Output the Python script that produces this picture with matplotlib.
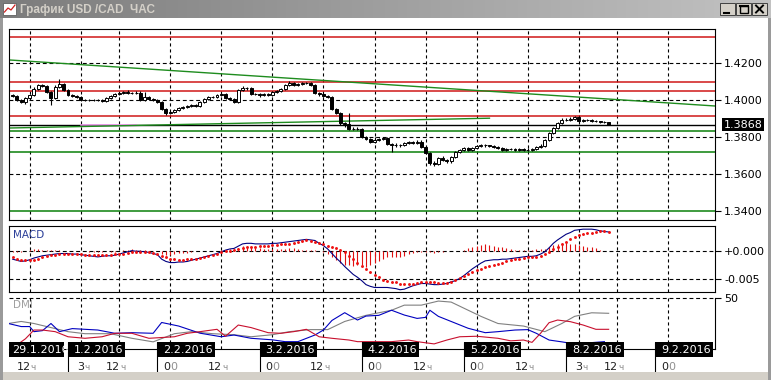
import numpy as np
import matplotlib.pyplot as plt
from matplotlib.patches import Rectangle
from matplotlib.colors import LinearSegmentedColormap

plt.rcParams['font.family'] = ['DejaVu Sans']

# hourly USD/CAD bars, bar 0 = 29.1.2016 12:00 (weekend gaps removed)
first_bar = -4
opens = [1.4030, 1.4023, 1.4002, 1.3991, 1.4012, 1.4029, 1.4061, 1.4083, 1.4077, 1.4045,
         1.4012, 1.4072, 1.4088, 1.4056, 1.4029, 1.4023, 1.4018, 1.4002, 1.4000, 1.4003,
         1.4001, 1.4004, 1.3996, 1.4012, 1.4023, 1.4034, 1.4039, 1.4045, 1.4040, 1.4038,
         1.4041, 1.4002, 1.4018, 1.4007, 1.4002, 1.3991, 1.3953, 1.3931, 1.3937, 1.3948,
         1.3958, 1.3964, 1.3969, 1.3975, 1.3970, 1.3991, 1.4007, 1.4018, 1.4016, 1.4029,
         1.4034, 1.4012, 1.4007, 1.3991, 1.4056, 1.4066, 1.4064, 1.4034, 1.4032, 1.4029,
         1.4034, 1.4029, 1.4045, 1.4050, 1.4061, 1.4083, 1.4094, 1.4083, 1.4088, 1.4094,
         1.4092, 1.4083, 1.4039, 1.4034, 1.4023, 1.4018, 1.3953, 1.3931, 1.3877, 1.3872,
         1.3845, 1.3847, 1.3843, 1.3802, 1.3791, 1.3775, 1.3785, 1.3791, 1.3796, 1.3764,
         1.3758, 1.3760, 1.3757, 1.3769, 1.3775, 1.3769, 1.3775, 1.3748, 1.3715, 1.3661,
         1.3656, 1.3688, 1.3677, 1.3672, 1.3694, 1.3721, 1.3731, 1.3742, 1.3731, 1.3742,
         1.3753, 1.3758, 1.3756, 1.3753, 1.3748, 1.3742, 1.3731, 1.3737, 1.3735, 1.3731,
         1.3737, 1.3731, 1.3733, 1.3737, 1.3748, 1.3753, 1.3785, 1.3823, 1.3850, 1.3877,
         1.3894, 1.3896, 1.3899, 1.3910, 1.3888, 1.3894, 1.3892, 1.3888, 1.3886, 1.3883,
         1.3880]
highs = [1.4036, 1.4027, 1.4006, 1.4018, 1.4036, 1.4070, 1.4090, 1.4090, 1.4082, 1.4050,
         1.4083, 1.4114, 1.4094, 1.4061, 1.4035, 1.4029, 1.4022, 1.4007, 1.4008, 1.4007,
         1.4009, 1.4008, 1.4017, 1.4029, 1.4040, 1.4045, 1.4050, 1.4056, 1.4045, 1.4050,
         1.4048, 1.4045, 1.4023, 1.4012, 1.4007, 1.3996, 1.3958, 1.3942, 1.3953, 1.3964,
         1.3969, 1.3975, 1.3980, 1.3980, 1.3996, 1.4012, 1.4023, 1.4023, 1.4034, 1.4040,
         1.4040, 1.4018, 1.4012, 1.4061, 1.4077, 1.4072, 1.4070, 1.4040, 1.4038, 1.4040,
         1.4040, 1.4050, 1.4056, 1.4066, 1.4088, 1.4104, 1.4099, 1.4094, 1.4099, 1.4099,
         1.4097, 1.4088, 1.4045, 1.4040, 1.4029, 1.4023, 1.3958, 1.3937, 1.3883, 1.3933,
         1.3856, 1.3856, 1.3848, 1.3807, 1.3796, 1.3802, 1.3796, 1.3802, 1.3802, 1.3769,
         1.3769, 1.3764, 1.3775, 1.3780, 1.3780, 1.3785, 1.3785, 1.3753, 1.3720, 1.3672,
         1.3694, 1.3699, 1.3683, 1.3699, 1.3726, 1.3737, 1.3748, 1.3748, 1.3748, 1.3758,
         1.3764, 1.3764, 1.3760, 1.3758, 1.3753, 1.3748, 1.3742, 1.3742, 1.3740, 1.3742,
         1.3742, 1.3740, 1.3742, 1.3753, 1.3764, 1.3791, 1.3829, 1.3856, 1.3883, 1.3904,
         1.3904, 1.3910, 1.3915, 1.3915, 1.3899, 1.3899, 1.3899, 1.3892, 1.3888, 1.3886,
         1.3883]
lows = [1.4015, 1.3996, 1.3985, 1.3982, 1.4008, 1.4024, 1.4056, 1.4072, 1.4040, 1.3975,
        1.4007, 1.4066, 1.4050, 1.4023, 1.4018, 1.4012, 1.3997, 1.3995, 1.3996, 1.3996,
        1.3997, 1.3991, 1.3992, 1.4007, 1.4018, 1.4029, 1.4034, 1.4034, 1.4032, 1.4032,
        1.3996, 1.3996, 1.4002, 1.3996, 1.3985, 1.3948, 1.3920, 1.3926, 1.3932, 1.3942,
        1.3953, 1.3958, 1.3964, 1.3964, 1.3964, 1.3985, 1.4002, 1.4010, 1.4010, 1.4023,
        1.4007, 1.4002, 1.3985, 1.3985, 1.4050, 1.4058, 1.4029, 1.4026, 1.4018, 1.4023,
        1.4023, 1.4023, 1.4040, 1.4045, 1.4056, 1.4077, 1.4077, 1.4077, 1.4083, 1.4086,
        1.4077, 1.4034, 1.4023, 1.4018, 1.4012, 1.3948, 1.3926, 1.3866, 1.3856, 1.3840,
        1.3840, 1.3837, 1.3796, 1.3785, 1.3769, 1.3769, 1.3780, 1.3785, 1.3758, 1.3722,
        1.3748, 1.3748, 1.3753, 1.3764, 1.3764, 1.3764, 1.3742, 1.3710, 1.3650, 1.3645,
        1.3650, 1.3672, 1.3661, 1.3661, 1.3688, 1.3715, 1.3726, 1.3726, 1.3726, 1.3737,
        1.3748, 1.3750, 1.3748, 1.3742, 1.3737, 1.3726, 1.3726, 1.3729, 1.3726, 1.3726,
        1.3726, 1.3726, 1.3728, 1.3731, 1.3742, 1.3748, 1.3780, 1.3818, 1.3845, 1.3872,
        1.3888, 1.3890, 1.3894, 1.3883, 1.3883, 1.3886, 1.3883, 1.3880, 1.3877, 1.3875,
        1.3864]
closes = [1.4023, 1.4002, 1.3991, 1.4012, 1.4029, 1.4061, 1.4083, 1.4077, 1.4045, 1.4012,
          1.4072, 1.4088, 1.4056, 1.4029, 1.4023, 1.4018, 1.4002, 1.4000, 1.4003, 1.4001,
          1.4004, 1.3996, 1.4012, 1.4023, 1.4034, 1.4039, 1.4045, 1.4040, 1.4038, 1.4041,
          1.4002, 1.4018, 1.4007, 1.4002, 1.3991, 1.3953, 1.3931, 1.3937, 1.3948, 1.3958,
          1.3964, 1.3969, 1.3975, 1.3970, 1.3991, 1.4007, 1.4018, 1.4016, 1.4029, 1.4034,
          1.4012, 1.4007, 1.3991, 1.4056, 1.4066, 1.4064, 1.4034, 1.4032, 1.4029, 1.4034,
          1.4029, 1.4045, 1.4050, 1.4061, 1.4083, 1.4094, 1.4083, 1.4088, 1.4094, 1.4092,
          1.4083, 1.4039, 1.4034, 1.4023, 1.4018, 1.3953, 1.3931, 1.3877, 1.3872, 1.3845,
          1.3847, 1.3843, 1.3802, 1.3791, 1.3775, 1.3785, 1.3791, 1.3796, 1.3764, 1.3758,
          1.3760, 1.3757, 1.3769, 1.3775, 1.3769, 1.3775, 1.3748, 1.3715, 1.3661, 1.3656,
          1.3688, 1.3677, 1.3672, 1.3694, 1.3721, 1.3731, 1.3742, 1.3731, 1.3742, 1.3753,
          1.3758, 1.3756, 1.3753, 1.3748, 1.3742, 1.3731, 1.3737, 1.3735, 1.3731, 1.3737,
          1.3731, 1.3733, 1.3737, 1.3748, 1.3753, 1.3785, 1.3823, 1.3850, 1.3877, 1.3894,
          1.3896, 1.3899, 1.3910, 1.3888, 1.3894, 1.3892, 1.3888, 1.3886, 1.3883, 1.3880,
          1.3868]

# MACD main line and signal, in units of 0.0001
macd_main = [-15, -17, -19, -18, -16, -13, -11, -9, -8, -7,
             -6, -5, -5, -5, -6, -6, -7, -8, -9, -10,
             -11, -10, -9, -9, -8, -6, -4, -2, 0, -1,
             -1, -2, -3, -5, -7, -15, -19, -21, -21, -20,
             -20, -19, -17, -15, -13, -11, -9, -7, -5, -2,
             1, 3, 4, 8, 12, 13, 13, 12, 12, 12,
             12, 13, 13, 14, 15, 16, 17, 18, 19, 20,
             19, 18, 13, 9, 3, -5, -13, -20, -28, -35,
             -42, -47, -53, -60, -63, -65, -65, -65, -65, -66,
             -67, -69, -68, -65, -62, -60, -58, -58, -59, -60,
             -60, -59, -58, -55, -53, -49, -44, -38, -32, -27,
             -22, -18, -17, -16, -16, -15, -15, -14, -13, -12,
             -11, -10, -10, -9, -6, -2, 5, 13, 19, 24,
             29, 32, 36, 37, 38, 38, 38, 37, 35, 34,
             33]
macd_signal = [-12, -14, -16, -17, -17, -16, -14, -11, -9, -8,
               -7, -6, -5, -5, -5, -6, -6, -7, -7, -8,
               -8, -8, -8, -7, -6, -6, -5, -4, -3, -3,
               -3, -3, -3, -4, -6, -9, -12, -14, -15, -16,
               -16, -15, -15, -14, -13, -11, -9, -7, -5, -3,
               -1, 0, 1, 3, 4, 6, 7, 7, 8, 9,
               9, 10, 10, 11, 12, 12, 13, 15, 17, 18,
               17, 16, 14, 12, 9, 7, 4, 1, -3, -9,
               -15, -21, -27, -32, -38, -43, -47, -51, -53, -55,
               -56, -58, -59, -59, -58, -57, -56, -55, -56, -56,
               -57, -57, -57, -55, -52, -49, -45, -42, -38, -35,
               -32, -29, -27, -25, -23, -21, -19, -17, -15, -14,
               -13, -12, -12, -12, -9, -5, -2, 3, 7, 12,
               16, 20, 24, 27, 29, 31, 32, 33, 34, 34,
               33]

# DMI lines read at selected bars
adx_bars = [-5, -2, 1, 4, 9, 13, 19, 24, 29, 34, 38, 43, 48, 52, 57, 61, 66, 70,
            74, 79, 85, 88, 92, 96, 99, 102, 106, 110, 116, 121, 125, 128, 132, 136]
adx_vals = [25, 27, 25, 22, 17, 15, 15, 10.5, 7, 15, 17, 15, 14, 12, 14, 17, 19, 19,
            27, 33, 38, 43, 43, 47, 46, 40, 32, 25, 22.5, 17, 25, 32, 35.5, 35]
plus_bars = [-5, -2, 0, 1, 3, 5, 7, 10, 16, 20, 24, 29, 31, 35, 40, 45, 48, 52, 57, 60,
             63, 67, 69, 71, 74, 77, 79, 82, 85, 88, 91, 93, 94, 96, 99, 103, 107, 110,
             114, 117, 119, 122, 125, 128, 135]
plus_vals = [25, 22, 22, 17, 18, 25, 17, 20, 18.6, 15.4, 16, 15.4, 26, 22.5, 15.5, 12,
             13.7, 10.5, 9, 7.2, 7.2, 13.7, 18.6, 28, 35.6, 28.4, 32.3, 33, 38, 33.3, 30,
             31, 38, 32, 27, 20.3, 16, 17, 18.6, 19, 15.4, 8.8, 7, 5, 7.2]
minus_bars = [-3, -1, 1, 3, 6, 9, 13, 17, 20, 24, 28, 34, 37, 40, 44, 46, 49, 52, 56, 59,
              62, 65, 68, 71, 75, 77, 81, 85, 89, 91, 95, 98, 101, 105, 110, 113, 116,
              118, 120, 122, 124, 127, 130, 133, 136]
minus_vals = [4, 10, 18.6, 18.6, 17, 12, 10.5, 12, 15.4, 15.4, 10.5, 12, 15.4, 17, 19.3,
              12.5, 23.5, 21, 16, 15.4, 17, 19.3, 12, 10.5, 8.8, 7.2, 7.2, 7.2, 8.8, 7.2,
              5, 8.8, 12, 12.5, 10.5, 8, 8.8, 6.5, 15.4, 25.8, 28.4, 26.8, 23.5, 19.3, 19.3]

# drawn levels
red_levels = [1.4340, 1.4100, 1.4050, 1.3915]
green_levels = [1.3835, 1.3719, 1.3400]
last_price = 1.3868
down_trend_bars = [-5, 161]
down_trend = [1.4218, 1.3969]
up_trend_bars = [-5, 108]
up_trend = [1.3850, 1.3903]
pink_bars = [12, 25]

# time scale
grid_bars = [0, 12, 21, 33, 45, 57, 69, 81, 93, 105, 117, 129, 138, 150]
hour_main = ['12', '3', '12', '0', '12', '0', '12', '0', '12', '0', '12', '3', '12', '0']
hour_suffix = ['ч', 'ч', 'ч', '0', 'ч', '0', 'ч', '0', 'ч', '0', 'ч', 'ч', 'ч', '0']
day_labels = ['29.1.2016', '1.2.2016', '2.2.2016', '3.2.2016', '4.2.2016',
              '5.2.2016', '8.2.2016', '9.2.2016']
day_box_bars = [-5.5, 9, 30, 54, 78, 102, 126, 147]

W, H = 771, 380
XLIM = (-4.86, 160.98)
fig = plt.figure(figsize=(W / 100, H / 100), dpi=100)
fig.patch.set_facecolor('white')


def add_panel(x0, y0, x1, y1):
    return fig.add_axes([x0 / W, 1 - y1 / H, (x1 - x0) / W, (y1 - y0) / H])


def vgrid(a):
    for b in grid_bars:
        a.axvline(b, color='black', lw=0.8, ls=(0, (2.8, 2.6)), zorder=1)


def right_ticks(a, ticks, labels):
    a.set_xticks([])
    a.yaxis.tick_right()
    a.set_yticks(ticks)
    a.set_yticklabels(labels)
    a.tick_params(axis='y', length=4, width=0.8, pad=2.5, labelsize=8)


bars = np.arange(first_bar, first_bar + len(closes))
o = np.array(opens)
c = np.array(closes)
up = c >= o

# ---- price panel ----
ax = add_panel(9, 29, 715, 220)
ax.set_xlim(XLIM)
ax.set_ylim(1.3353, 1.4385)
vgrid(ax)
for p in [1.36, 1.38, 1.40, 1.42]:
    ax.axhline(p, color='black', lw=0.8, ls=(0, (3.5, 2.5)), zorder=1)
for p in red_levels:
    ax.axhline(p, color='#d01818', lw=1.1, zorder=2)
for p in green_levels:
    ax.axhline(p, color='#0a800a', lw=1.1, zorder=2)
ax.axhline(last_price, color='black', lw=1.0, zorder=2)
ax.plot(pink_bars, [last_price, last_price], color='#f08cf0', lw=1.1, zorder=2)
ax.plot(down_trend_bars, down_trend, color='#1e8c1e', lw=1.0, zorder=2)
ax.plot(up_trend_bars, up_trend, color='#1e8c1e', lw=1.0, zorder=2)

ax.vlines(bars, lows, highs, color='black', lw=0.8, zorder=4)
ax.bar(bars[up], (c - o)[up], bottom=o[up], width=0.7, color='white',
       edgecolor='black', lw=0.7, zorder=5)
ax.bar(bars[~up], (o - c)[~up], bottom=c[~up], width=0.7, color='black',
       edgecolor='black', lw=0.7, zorder=5)

price_ticks = [1.34, 1.36, 1.38, 1.40, 1.42]
right_ticks(ax, price_ticks, [f'{v:.4f}' for v in price_ticks])
ax.text(1.0125, last_price, f'{last_price:.4f}', transform=ax.get_yaxis_transform(),
        ha='left', va='center', fontsize=8, color='white', clip_on=False,
        bbox=dict(boxstyle='square,pad=0.15', fc='black', ec='none'))

# ---- MACD panel ----
mx = add_panel(9, 226, 715, 292)
mx.set_xlim(XLIM)
mx.set_ylim(-0.0073, 0.00436)
vgrid(mx)
for v in [0, -0.005]:
    mx.axhline(v, color='black', lw=0.8, ls=(0, (3.5, 2.5)), zorder=1)
macd = np.array(macd_main) / 10000
sig = np.array(macd_signal) / 10000
mx.vlines(bars, 0, macd - sig, color='#e01010', lw=0.8, zorder=2)
mx.plot(bars, macd, color='#000080', lw=0.8, zorder=3)
mx.plot(bars, sig, ls='none', marker='o', ms=2.1, mfc='#ee1111', mec='none', zorder=4)
right_ticks(mx, [0, -0.005], ['+0.000', '-0.005'])
mx.text(0.005, 0.87, 'MACD', transform=mx.transAxes, fontsize=7.5,
        color='#2b3f99', va='center')

# ---- DMI panel ----
dx = add_panel(9, 298, 715, 349)
dx.set_xlim(XLIM)
dx.set_ylim(0, 50)
dx.spines['left'].set_visible(False)
dx.spines['top'].set_visible(False)
vgrid(dx)
dx.axhline(50, color='black', lw=0.8, ls=(0, (3.5, 2.5)), zorder=1, clip_on=False)
dx.plot(adx_bars, adx_vals, color='#808080', lw=0.8, zorder=3)
dx.plot(plus_bars, plus_vals, color='#0000c0', lw=0.8, zorder=3)
dx.plot(minus_bars, minus_vals, color='#c8102e', lw=0.8, zorder=3)
right_ticks(dx, [50], ['50'])
dx.text(0.005, 0.86, 'DMI', transform=dx.transAxes, fontsize=7.5,
        color='#a0a0a0', va='center')

# ---- time scale ----
tx = add_panel(9, 342, 715, 372)
tx.set_xlim(XLIM)
tx.set_ylim(30, 0)
tx.axis('off')
for i, (b, lab) in enumerate(zip(day_box_bars, day_labels)):
    tx.add_patch(Rectangle((b, 0), 13.5, 15, fc='black', ec='none', zorder=10 + 2 * i))
    tx.text(b + 1.4, 7.8, lab, color='white', fontsize=8, ha='left', va='center',
            zorder=11 + 2 * i)
    if i > 0:
        tx.vlines(b, 0, 30, color='black', lw=0.8, zorder=5)
hour_shift = {'12': -3.1, '0': -1.7, '3': -0.8}
for b, m, s in zip(grid_bars, hour_main, hour_suffix):
    t = tx.text(b + hour_shift[m], 25, m, fontsize=8, color='#202020', ha='left', va='center')
    tx.annotate(s, xy=(1, 0), xycoords=t, ha='left', va='bottom',
                fontsize=8 if s == '0' else 6.5, color='#909090')

# ---- window chrome ----
tb = fig.add_axes([0, 1 - 18 / H, 1, 18 / H])
tb_cmap = LinearSegmentedColormap.from_list('titlebar', ['#7c7c7c', '#c2c2c2'])
tb.imshow(np.linspace(0, 1, 256)[None, :], cmap=tb_cmap, aspect='auto', extent=(0, W, 18, 0))
tb.set_xlim(0, W)
tb.set_ylim(18, 0)
tb.axis('off')
tb.text(20, 9.5, 'График USD /CAD  ЧАС', color='#d4d0c8', fontsize=8.5,
        family='Liberation Sans', fontweight='bold', va='center', ha='left')
tb.add_patch(Rectangle((3, 3), 13, 12, fc='white', ec='#606060', lw=0.6))
tb.plot([4.5, 8, 11, 15], [12, 8, 10, 5], color='#d02020', lw=0.9)
for bx in [720, 736, 752]:
    tb.add_patch(Rectangle((bx, 3), 15, 12, fc='#d4d0c8', ec='#404040', lw=0.7))
tb.plot([724, 729], [12.5, 12.5], color='black', lw=1.5)
tb.add_patch(Rectangle((740, 5.5), 8, 7.5, fc='none', ec='black', lw=1.0))
tb.plot([740, 748], [6, 6], color='black', lw=1.5)
tb.plot([756, 763], [5.5, 12.5], color='black', lw=1.4)
tb.plot([756, 763], [12.5, 5.5], color='black', lw=1.4)

fig.add_artist(Rectangle((0, 0), 1, 8 / H, transform=fig.transFigure,
                         fc='#d4d0c8', ec='none', zorder=-1))
fig.add_artist(Rectangle((0, 0), 3 / W, 1, transform=fig.transFigure,
                         fc='#9a9a9a', ec='none', zorder=-1))
fig.add_artist(Rectangle((1 - 3 / W, 0), 3 / W, 1, transform=fig.transFigure,
                         fc='#9a9a9a', ec='none', zorder=-1))

fig.savefig('out.png', dpi=100)
